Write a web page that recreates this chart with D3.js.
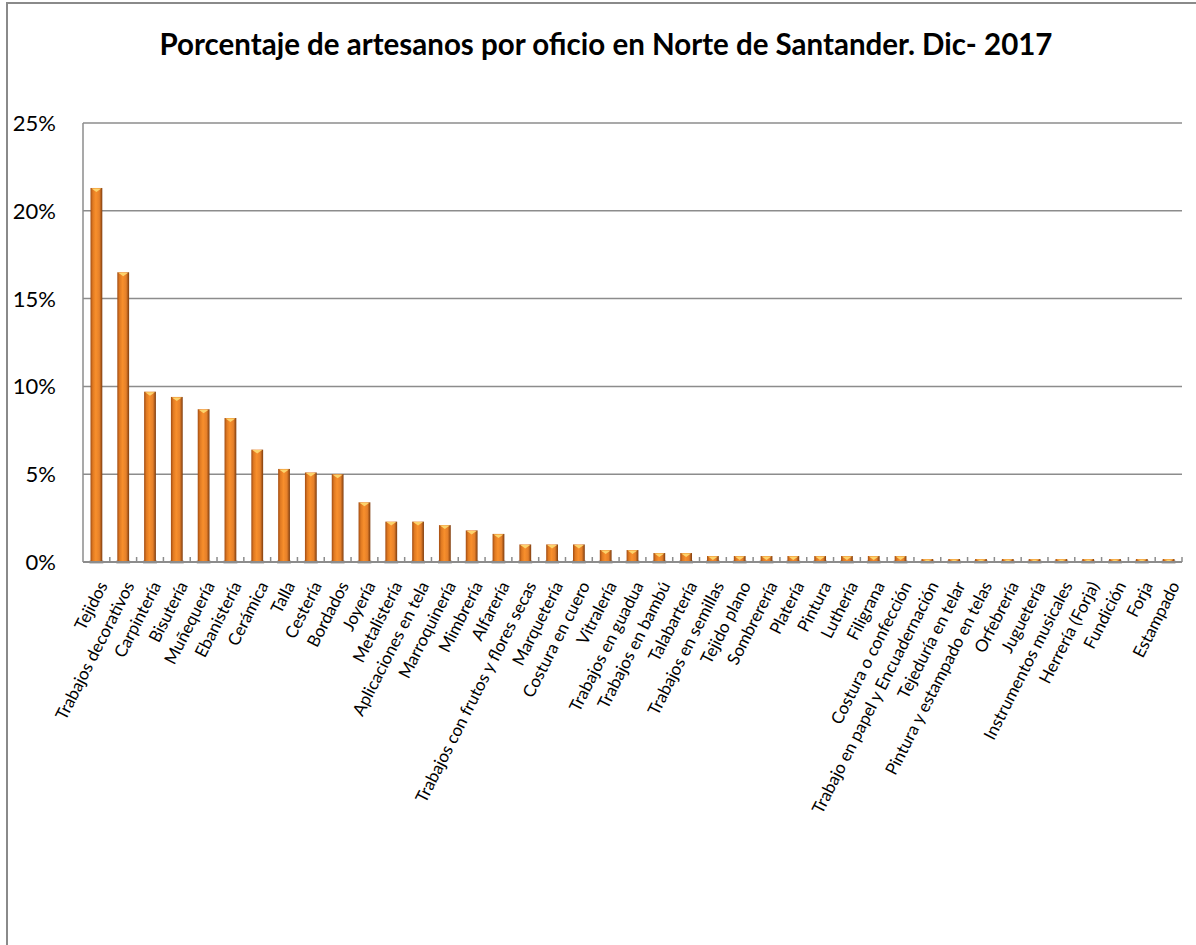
<!DOCTYPE html>
<html>
<head>
<meta charset="utf-8">
<script src="https://cdn.jsdelivr.net/npm/d3@7"></script>
<style>
  body { margin: 0; background: #fff; }
  svg { display: block; font-family: Lato, "Open Sans", sans-serif; }
</style>
</head>
<body>
<div id="chart"></div>
<script>
// data (percent of artisans per craft)
var oficios = ["Tejidos", "Trabajos decorativos", "Carpintería", "Bisutería", "Muñequería",
  "Ebanistería", "Cerámica", "Talla", "Cestería", "Bordados", "Joyería", "Metalistería",
  "Aplicaciones en tela", "Marroquinería", "Mimbrería", "Alfarería",
  "Trabajos con frutos y flores secas", "Marquetería", "Costura en cuero", "Vitralería",
  "Trabajos en guadua", "Trabajos en bambú", "Talabartería", "Trabajos en semillas",
  "Tejido plano", "Sombrerería", "Platería", "Pintura", "Luthería", "Filigrana",
  "Costura o confección", "Trabajo en papel y Encuadernación", "Tejeduría en telar",
  "Pintura y estampado en telas", "Orfebrería", "Juguetería", "Instrumentos musicales",
  "Herrería (Forja)", "Fundición", "Forja", "Estampado"];
var porcentajes = [21.3, 16.5, 9.7, 9.4, 8.7, 8.2, 6.4, 5.3, 5.1, 5.0, 3.4, 2.3,
  2.3, 2.1, 1.8, 1.6, 1.0, 1.0, 1.0, 0.68, 0.68, 0.51, 0.51, 0.34, 0.34, 0.34,
  0.34, 0.34, 0.34, 0.34, 0.34, 0.17, 0.17, 0.17, 0.17, 0.17, 0.17, 0.17, 0.17, 0.17, 0.17];
var yTicks = [0, 5, 10, 15, 20, 25];
var titulo = "Porcentaje de artesanos por oficio en Norte de Santander. Dic- 2017";

var W = 1196, H = 945;
var svg = d3.select("#chart").append("svg").attr("width", W).attr("height", H);

// outer chart frame (runs off the right and bottom of the picture)
svg.append("rect").attr("x", 7).attr("y", 3).attr("width", 1300).attr("height", 1000)
  .attr("fill", "#fff").attr("stroke", "#8a8a8a").attr("stroke-width", 2);

var defs = svg.append("defs");
var grad = defs.append("linearGradient").attr("id", "cyl").attr("x1", 0).attr("x2", 1).attr("y1", 0).attr("y2", 0);
grad.append("stop").attr("offset", "0%").attr("stop-color", "#a24c12");
grad.append("stop").attr("offset", "20%").attr("stop-color", "#e07a22");
grad.append("stop").attr("offset", "45%").attr("stop-color", "#f88f2c");
grad.append("stop").attr("offset", "75%").attr("stop-color", "#e5802a");
grad.append("stop").attr("offset", "100%").attr("stop-color", "#7e3c0e");

var plotL = 83, plotR = 1182, plotT = 123, plotB = 562;

var x = d3.scaleBand().domain(oficios).range([plotL, plotR]);
var y = d3.scaleLinear().domain([0, 25]).range([plotB, plotT]);

// gridlines
svg.append("g").selectAll("line").data(yTicks.slice(1)).join("line")
  .attr("x1", plotL).attr("x2", plotR)
  .attr("y1", function(d) { return y(d); }).attr("y2", function(d) { return y(d); })
  .attr("stroke", "#8c8c8c").attr("stroke-width", 1.5);

// y axis
svg.append("line").attr("x1", plotL).attr("x2", plotL).attr("y1", plotT).attr("y2", plotB)
  .attr("stroke", "#8c8c8c").attr("stroke-width", 1.5);
svg.append("g").selectAll("text").data(yTicks).join("text")
  .attr("x", 56).attr("y", function(d) { return y(d); })
  .attr("dy", "0.36em").attr("text-anchor", "end")
  .attr("font-size", 22).attr("fill", "#000")
  .text(function(d) { return d + "%"; });

// bars
var bw = x.bandwidth() * 0.44;
var bars = svg.append("g").selectAll("g").data(oficios).join("g");
bars.append("rect")
  .attr("x", function(d) { return x(d) + (x.bandwidth() - bw) / 2 - 1; })
  .attr("y", plotB - 2).attr("width", bw + 2).attr("height", 4)
  .attr("fill", "#bbb").attr("opacity", 0.7);
bars.append("rect")
  .attr("x", function(d) { return x(d) + (x.bandwidth() - bw) / 2; })
  .attr("y", function(d, i) { return y(porcentajes[i]); })
  .attr("width", bw)
  .attr("height", function(d, i) { return plotB - y(porcentajes[i]); })
  .attr("fill", "url(#cyl)");
bars.append("path")
  .attr("d", function(d, i) {
    var x0 = x(d) + (x.bandwidth() - bw) / 2, t = y(porcentajes[i]);
    var h = Math.min(4, plotB - t - 0.5);
    return "M" + (x0 + 1) + "," + (t + 0.5) + "L" + (x0 + bw - 1) + "," + (t + 0.5) +
      "L" + (x0 + bw / 2) + "," + (t + h) + "Z";
  })
  .attr("fill", "#fcd36c");

// x axis with inside ticks between categories
svg.append("line").attr("x1", plotL).attr("x2", plotR).attr("y1", plotB).attr("y2", plotB)
  .attr("stroke", "#8c8c8c").attr("stroke-width", 2);
svg.append("g").selectAll("line").data(oficios).join("line")
  .attr("x1", function(d) { return x(d) + x.bandwidth(); })
  .attr("x2", function(d) { return x(d) + x.bandwidth(); })
  .attr("y1", plotB - 5).attr("y2", plotB)
  .attr("stroke", "#8c8c8c").attr("stroke-width", 1.5);

// category labels
svg.append("g").selectAll("text").data(oficios).join("text")
  .attr("transform", function(d) {
    return "translate(" + (x(d) + x.bandwidth() / 2 + 1) + "," + 580 + ") rotate(-63)";
  })
  .attr("text-anchor", "end").attr("dy", "0.7em")
  .attr("font-size", 17).attr("fill", "#000")
  .text(function(d) { return d; });

// title
var t = svg.append("text").attr("x", 606).attr("y", 55).attr("text-anchor", "middle")
  .attr("font-weight", "bold").attr("font-size", 26).attr("fill", "#000").text(titulo);
var tw = t.node().getComputedTextLength();
t.attr("font-size", 26 * 893 / tw);
</script>
</body>
</html>
